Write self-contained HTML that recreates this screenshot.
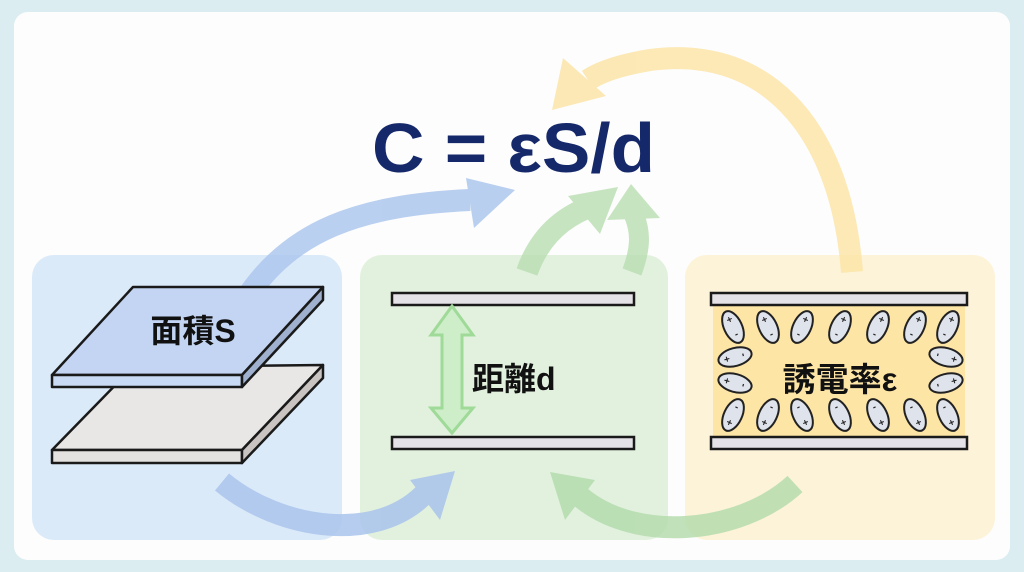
<!DOCTYPE html>
<html><head><meta charset="utf-8"><style>
html,body{margin:0;padding:0;background:#dcedf2;}
svg{display:block}
text{font-family:"Liberation Sans","Noto Sans CJK JP",sans-serif;font-weight:bold}
</style></head><body>
<svg width="1024" height="572" viewBox="0 0 1024 572" xmlns="http://www.w3.org/2000/svg">
<defs>
<g id="dip"><ellipse cx="0" cy="0" rx="9" ry="17" fill="#dfe3ec" stroke="#222" stroke-width="2"/>
<text x="0" y="-5" font-size="10" text-anchor="middle" fill="#222">+</text><text x="0" y="11" font-size="10" text-anchor="middle" fill="#222">-</text></g>
</defs>
<rect x="14" y="12" width="996" height="548" rx="14" fill="#fdfdfd"/>
<rect x="32" y="255" width="310" height="285" rx="22" fill="#dbeaf9"/>
<rect x="360" y="255" width="308" height="285" rx="22" fill="#e2f1de"/>
<rect x="685" y="255" width="310" height="285" rx="22" fill="#fdf3d8"/>

<g opacity="0.8">
<path d="M852,272 C840,120 760,45 650,60 C620,65 600,72 588,80" fill="none" stroke="#fbe4a4" stroke-width="22"/>
<polygon points="552,110 563,58 606,96" fill="#fbe4a4"/>
</g>
<g opacity="0.8">
<path d="M245,300 C290,230 360,205 470,200" fill="none" stroke="#a9c4ec" stroke-width="22"/>
<polygon points="515,190 466,178 474,228" fill="#a9c4ec"/>
</g>
<g opacity="0.75">
<path d="M527,272 C540,235 565,215 595,205" fill="none" stroke="#b5dcae" stroke-width="22"/>
<polygon points="618,187 568,196 600,234" fill="#b5dcae"/>
<path d="M632,272 C642,245 640,230 634,215" fill="none" stroke="#b5dcae" stroke-width="20"/>
<polygon points="631,184 607,220 660,218" fill="#b5dcae"/>
</g>
<g opacity="0.85">
<path d="M222,482 C280,530 380,545 428,490" fill="none" stroke="#a9c4ec" stroke-width="22"/>
<polygon points="455,471 410,480 440,520" fill="#a9c4ec"/>
<path d="M795,484 C740,535 630,545 575,492" fill="none" stroke="#b5dcae" stroke-width="22"/>
<polygon points="550,472 595,480 565,520" fill="#b5dcae"/>
</g>

<text x="372" y="172" font-size="70" fill="#15286a" textLength="283" lengthAdjust="spacingAndGlyphs">C = εS/d</text>

<g stroke="#1a1a1a" stroke-width="2.5" stroke-linejoin="round">
<polygon points="133,367 323,365 242,450 52,450" fill="#e9e6e6"/>
<rect x="52" y="450" width="190" height="13" fill="#e4e1e1"/>
<polygon points="242,450 323,365 323,378 242,463" fill="#c9c4c1"/>
<polygon points="133,287 323,287 242,375 52,375" fill="#c3d5f2"/>
<rect x="52" y="375" width="190" height="12" fill="#c9daf4"/>
<polygon points="242,375 323,287 323,300 242,387" fill="#9fb1cf"/>
</g>
<text x="193" y="342" font-size="32" text-anchor="middle" fill="#111">面積S</text>

<rect x="392" y="293" width="242" height="12" fill="#e4e2e6" stroke="#1a1a1a" stroke-width="2.5"/>
<rect x="392" y="437" width="242" height="12" fill="#e4e2e6" stroke="#1a1a1a" stroke-width="2.5"/>
<polygon points="452,306 473,335 462,335 462,408 473,408 452,433 431,408 442,408 442,335 431,335" fill="#cdeec9" stroke="#9fda98" stroke-width="3"/>
<text x="472" y="390" font-size="32" fill="#111">距離d</text>

<rect x="713" y="305" width="252" height="132" fill="#fde5a6"/>
<rect x="711" y="293" width="256" height="12" fill="#e4e2e6" stroke="#1a1a1a" stroke-width="2.5"/>
<rect x="711" y="437" width="256" height="12" fill="#e4e2e6" stroke="#1a1a1a" stroke-width="2.5"/>
<use href="#dip" transform="translate(733,327) rotate(-25)"/>
<use href="#dip" transform="translate(768,327) rotate(-25)"/>
<use href="#dip" transform="translate(802,327) rotate(25)"/>
<use href="#dip" transform="translate(840,327) rotate(25)"/>
<use href="#dip" transform="translate(878,327) rotate(25)"/>
<use href="#dip" transform="translate(915,327) rotate(25)"/>
<use href="#dip" transform="translate(948,327) rotate(25)"/>
<use href="#dip" transform="translate(733,415) rotate(205)"/>
<use href="#dip" transform="translate(768,415) rotate(205)"/>
<use href="#dip" transform="translate(802,415) rotate(155)"/>
<use href="#dip" transform="translate(840,415) rotate(155)"/>
<use href="#dip" transform="translate(878,415) rotate(155)"/>
<use href="#dip" transform="translate(915,415) rotate(155)"/>
<use href="#dip" transform="translate(948,415) rotate(155)"/>
<use href="#dip" transform="translate(735,357) rotate(-105)"/>
<use href="#dip" transform="translate(735,383) rotate(-75)"/>
<use href="#dip" transform="translate(946,357) rotate(105)"/>
<use href="#dip" transform="translate(946,383) rotate(75)"/>
<text x="840" y="391" font-size="33" text-anchor="middle" fill="#111">誘電率ε</text>
</svg>
</body></html>
